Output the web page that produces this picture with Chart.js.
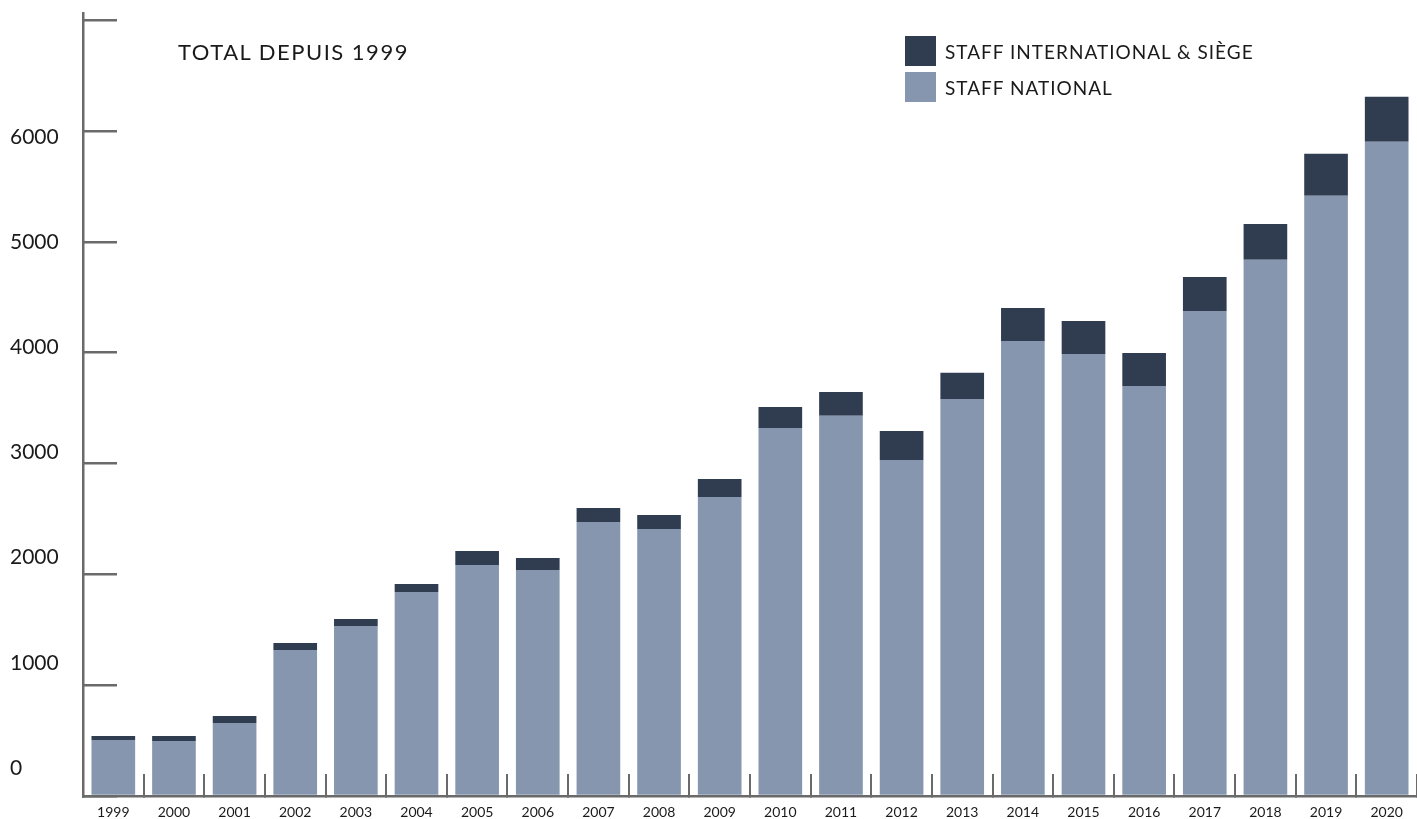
<!DOCTYPE html>
<html>
<head>
<meta charset="utf-8">
<script src="https://cdn.jsdelivr.net/npm/chart.js@4.4.1/dist/chart.umd.min.js"></script>
<style>
  html, body { margin: 0; padding: 0; background: #ffffff; }
  #wrap { position: relative; width: 1417px; height: 819px; overflow: hidden; }
  #c { display: block; }
  #title { position: absolute; left: 178px; top: 37px; font-family: Lato, sans-serif; font-size: 22px; letter-spacing: 1.5px; color: #1a1a1a; white-space: nowrap; line-height: 30px; }
  #legend { position: absolute; left: 905px; top: 36px; font-family: Lato, sans-serif; font-size: 19px; letter-spacing: 1px; color: #1a1a1a; }
  .item { display: flex; align-items: center; height: 30px; margin-bottom: 6px; white-space: nowrap; }
  .sw { width: 31px; height: 30px; margin-right: 9px; flex: none; }
</style>
</head>
<body>
<div id="wrap">
  <canvas id="c" width="1417" height="819"></canvas>
  <div id="title"></div>
  <div id="legend"></div>
</div>
<script>
// ---- data ----
const years = ["1999","2000","2001","2002","2003","2004","2005","2006","2007","2008","2009","2010","2011","2012","2013","2014","2015","2016","2017","2018","2019","2020"];
const staffNational = [505, 496, 659, 1318, 1534, 1841, 2085, 2040, 2473, 2410, 2699, 3321, 3430, 3032, 3583, 4106, 3989, 3700, 4377, 4838, 5415, 5903];
const staffInternational = [36, 45, 63, 63, 63, 72, 126, 108, 126, 126, 162, 190, 216, 262, 235, 298, 298, 298, 307, 324, 379, 406];
const yTickValues = [0, 1000, 2000, 3000, 4000, 5000, 6000, 7000];
const yLabelValues = [0, 1000, 2000, 3000, 4000, 5000, 6000];
const seriesNames = ["STAFF INTERNATIONAL & SIÈGE", "STAFF NATIONAL"];
const seriesColors = ["#303d51", "#8696af"];
const titleText = "TOTAL DEPUIS 1999";

// title and legend (HTML text)
document.getElementById('title').textContent = titleText;
const lg = document.getElementById('legend');
seriesNames.forEach((n, i) => {
  const d = document.createElement('div'); d.className = 'item';
  const s = document.createElement('span'); s.className = 'sw'; s.style.background = seriesColors[i];
  const t = document.createElement('span'); t.textContent = n;
  d.appendChild(s); d.appendChild(t); lg.appendChild(d);
});

const axisColor = '#6a6a6a';
const textColor = '#1a1a1a';

new Chart(document.getElementById('c'), {
  type: 'bar',
  data: {
    labels: years,
    datasets: [
      { label: seriesNames[1], data: staffNational, backgroundColor: seriesColors[1], borderWidth: 0, yAxisID: 'y' },
      { label: seriesNames[0], data: staffInternational, backgroundColor: seriesColors[0], borderWidth: 0, yAxisID: 'y' }
    ]
  },
  options: {
    responsive: false,
    animation: false,
    devicePixelRatio: 1,
    layout: { padding: { left: 10, top: 13, right: 0, bottom: 0 } },
    datasets: { bar: { barPercentage: 0.72, categoryPercentage: 1.0 } },
    plugins: { legend: { display: false }, tooltip: { enabled: false }, title: { display: false } },
    scales: {
      x: {
        stacked: true,
        offset: true,
        grid: { display: true, offset: true, drawOnChartArea: false, drawTicks: true, tickLength: -22, color: axisColor, lineWidth: 2 },
        border: { display: true, color: axisColor, width: 2.5 },
        ticks: { color: textColor, font: { family: 'Lato', size: 14 }, padding: 30, maxRotation: 0, autoSkip: false },
        afterFit: s => { s.height = 23; s.paddingLeft = 0; s.paddingRight = 0; }
      },
      y: {
        stacked: true,
        position: 'left',
        weight: 0,
        min: 0,
        max: 7065,
        afterBuildTicks: s => { s.ticks = yTickValues.map(v => ({ value: v })); },
        ticks: { display: false },
        grid: { display: true, drawOnChartArea: false, drawTicks: true, tickLength: -34, color: axisColor, lineWidth: 2.5 },
        border: { display: true, color: axisColor, width: 2.5 },
        afterFit: s => { s.width = 0; }
      },
      yl: {
        type: 'linear',
        position: 'left',
        weight: 1,
        min: -266,
        max: 7179,
        afterBuildTicks: s => { s.ticks = yLabelValues.map(v => ({ value: v })); },
        grid: { display: false },
        border: { display: false },
        ticks: { crossAlign: 'far', color: textColor, font: { family: 'Lato', size: 21 }, padding: 0, callback: v => String(v) },
        afterFit: s => { s.width = 73; }
      }
    }
  }
});
</script>
</body>
</html>
